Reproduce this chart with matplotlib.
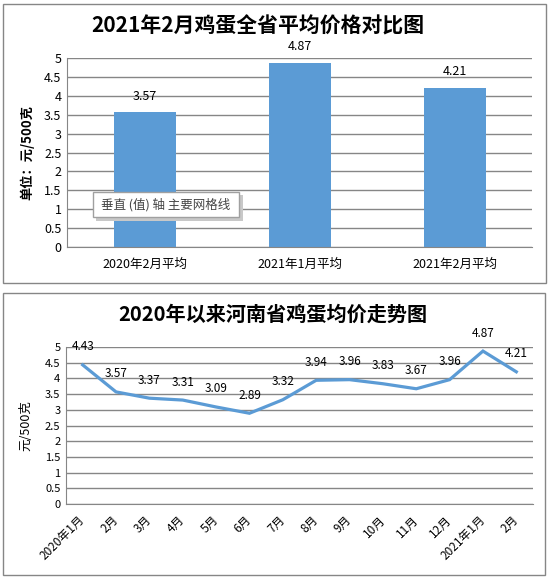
import numpy as np
import matplotlib
matplotlib.use('Agg')
import matplotlib.pyplot as plt
from matplotlib.patches import Rectangle

plt.rcParams['font.family'] = ['Noto Sans CJK SC', 'DejaVu Sans']

#Data of the bar chart
bar_names = ['2020年2月平均', '2021年1月平均', '2021年2月平均']
bar_values = [3.57, 4.87, 4.21]
#Data of the line chart
months = ['2020年1月', '2月', '3月', '4月', '5月', '6月', '7月', '8月', '9月',
          '10月', '11月', '12月', '2021年1月', '2月']
prices = [4.43, 3.57, 3.37, 3.31, 3.09, 2.89, 3.32, 3.94, 3.96, 3.83, 3.67, 3.96, 4.87, 4.21]
yticks = np.arange(0, 5.01, 0.5)
ylabels = ['0', '0.5', '1', '1.5', '2', '2.5', '3', '3.5', '4', '4.5', '5']

W, H = 552, 579
blue = '#5B9BD5'
grey = '#868686'

fig = plt.figure(figsize=(W / 100, H / 100), dpi=100)

def box(x0, y0, x1, y1):#pixel box -> figure fraction
    return [x0 / W, 1 - y1 / H, (x1 - x0) / W, (y1 - y0) / H]

def frame(x0, y0, x1, y1, **kw):
    fig.patches.append(Rectangle((x0 / W, 1 - y1 / H), (x1 - x0) / W, (y1 - y0) / H,
                                 transform=fig.transFigure, **kw))

def style(ax, size):
    ax.set_ylim(0, 5)
    ax.set_yticks(yticks)
    ax.set_yticklabels(ylabels, fontsize=size)
    ax.yaxis.grid(True, color=grey, lw=1)
    ax.set_axisbelow(True)
    for s in ['top', 'right']:
        ax.spines[s].set_visible(False)
    for s in ['left', 'bottom']:
        ax.spines[s].set_color(grey)
    ax.tick_params(length=0, pad=4)

#Panel borders
frame(3, 4, 546, 283, fill=False, edgecolor=grey, lw=1)
frame(3, 293, 545, 575, fill=False, edgecolor=grey, lw=1)

#Top: bar chart
ax1 = fig.add_axes(box(67, 58, 532, 247))
x = np.arange(len(bar_values))
ax1.bar(x, bar_values, width=0.4, color=blue, zorder=2)
ax1.set_xlim(-0.5, len(bar_values) - 0.5)
style(ax1, 9)
ax1.set_xticks(x)
ax1.set_xticklabels(bar_names, fontsize=9)
ax1.tick_params(axis='x', pad=8)
for i, v in enumerate(bar_values):
    ax1.annotate('%.2f' % v, (i, v), xytext=(0, 16), textcoords='offset pixels',
                 ha='center', va='center', fontsize=9)
ax1.set_ylabel('单位：元/500克', fontsize=9.5, fontweight='bold')
ax1.yaxis.set_label_coords(-33 / 465, 0.5)
fig.text(258 / W, 1 - 26 / H, '2021年2月鸡蛋全省平均价格对比图', ha='center', va='center',
         fontsize=15, fontweight='bold')

#Tooltip left in the screenshot
frame(96, 195, 243, 221, facecolor='#C8C8C8', edgecolor='none', zorder=5)
frame(93, 192, 239, 217, facecolor='white', edgecolor='#A0A0A0', lw=1, zorder=6)
fig.text(166 / W, 1 - 204.5 / H, '垂直 (值) 轴 主要网格线', ha='center', va='center',
         fontsize=9, color='#444444', zorder=7)

#Bottom: line chart
ax2 = fig.add_axes(box(66, 347, 533, 504))
xi = np.arange(len(prices))
ax2.plot(xi, prices, color=blue, lw=2.3, solid_joinstyle='miter', zorder=3)
ax2.set_xlim(-0.5, len(prices) - 0.5)
style(ax2, 8)
ax2.set_xticks(xi)
ax2.set_xticklabels(months, fontsize=8.5, rotation=45, ha='right', va='center',
                    rotation_mode='anchor')
ax2.tick_params(axis='x', pad=10)
for i, v in enumerate(prices):
    ax2.annotate('%.2f' % v, (i, v), xytext=(0, 18), textcoords='offset pixels',
                 ha='center', va='center', fontsize=8.5)
ax2.set_ylabel('元/500克', fontsize=9)
ax2.yaxis.set_label_coords(-34 / 467, 0.5)
fig.text(273 / W, 1 - 314 / H, '2020年以来河南省鸡蛋均价走势图', ha='center', va='center',
         fontsize=14.5, fontweight='bold')

fig.savefig('out.png', dpi=100)
